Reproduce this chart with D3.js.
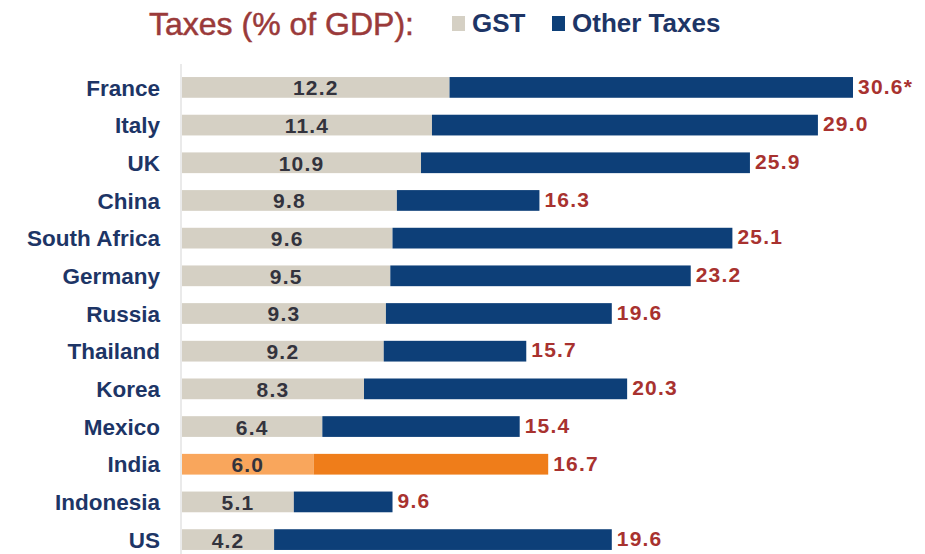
<!DOCTYPE html>
<html>
<head>
<meta charset="utf-8">
<script src="https://cdn.jsdelivr.net/npm/d3@7"></script>
<style>
  body { margin: 0; background: #fff; }
  text { font-family: "Liberation Sans", Arial, sans-serif; }
</style>
</head>
<body>
<svg id="chart" width="925" height="554"></svg>
<script>
var countries = ['France', 'Italy', 'UK', 'China', 'South Africa', 'Germany', 'Russia',
  'Thailand', 'Korea', 'Mexico', 'India', 'Indonesia', 'US'];
var gst = [12.2, 11.4, 10.9, 9.8, 9.6, 9.5, 9.3, 9.2, 8.3, 6.4, 6.0, 5.1, 4.2];
var total = [30.6, 29.0, 25.9, 16.3, 25.1, 23.2, 19.6, 15.7, 20.3, 15.4, 16.7, 9.6, 19.6];
var totalLabels = ['30.6*', '29.0', '25.9', '16.3', '25.1', '23.2', '19.6', '15.7', '20.3', '15.4', '16.7', '9.6', '19.6'];
var highlight = 'India';

var colors = {
  gst: '#d5d0c4', other: '#0d3f78',
  gstHi: '#f9a65c', otherHi: '#ef7d1a',
  label: '#1d3566', value: '#a8322f', inner: '#33333d', title: '#9a3a3a'
};

var margin = {top: 68, left: 182, right: 30, bottom: 0};
var svg = d3.select('#chart');

var rows = countries.map(function (c, i) {
  return {name: c, gst: gst[i], total: total[i], label: totalLabels[i]};
});

var x = d3.scaleLinear().domain([0, 30.6]).range([margin.left, 853]);
var y = d3.scaleBand().domain(countries).range([margin.top, 559]).paddingInner(0.45).paddingOuter(0.24);

// axis line
svg.append('line')
    .attr('x1', margin.left - 1).attr('x2', margin.left - 1)
    .attr('y1', 64).attr('y2', 554)
    .attr('stroke', '#e3e3e3').attr('stroke-width', 1.5);

var row = svg.selectAll('g.row')
    .data(rows)
  .enter().append('g')
    .attr('class', 'row')
    .attr('transform', function (d) { return 'translate(0,' + y(d.name) + ')'; });

row.append('rect')
    .attr('x', x(0))
    .attr('width', function (d) { return x(d.gst) - x(0); })
    .attr('height', y.bandwidth())
    .attr('fill', function (d) { return d.name === highlight ? colors.gstHi : colors.gst; });

row.append('rect')
    .attr('x', function (d) { return x(d.gst); })
    .attr('width', function (d) { return x(d.total) - x(d.gst); })
    .attr('height', y.bandwidth())
    .attr('fill', function (d) { return d.name === highlight ? colors.otherHi : colors.other; });

row.append('text')
    .attr('x', 160)
    .attr('y', y.bandwidth() / 2)
    .attr('dy', '0.36em')
    .attr('text-anchor', 'end')
    .attr('font-size', 22.5)
    .attr('font-weight', 'bold')
    .attr('fill', colors.label)
    .text(function (d) { return d.name; });

row.append('text')
    .attr('x', function (d) { return (x(0) + x(d.gst)) / 2; })
    .attr('y', y.bandwidth() / 2)
    .attr('dy', '0.38em')
    .attr('text-anchor', 'middle')
    .attr('font-size', 21)
    .attr('font-weight', 'bold')
    .attr('letter-spacing', 1.2)
    .attr('fill', colors.inner)
    .text(function (d) { return d.gst.toFixed(1); });

row.append('text')
    .attr('x', function (d) { return x(d.total) + 5; })
    .attr('y', y.bandwidth() / 2)
    .attr('dy', '0.3em')
    .attr('font-size', 21)
    .attr('font-weight', 'bold')
    .attr('letter-spacing', 1.2)
    .attr('fill', colors.value)
    .text(function (d) { return d.label; });

// title + legend
svg.append('text')
    .attr('x', 149).attr('y', 35)
    .attr('font-size', 32)
    .attr('fill', colors.title)
    .attr('stroke', colors.title)
    .attr('stroke-width', 0.5)
    .text('Taxes (% of GDP):');

var legend = [{name: 'GST', color: colors.gst, x: 452}, {name: 'Other Taxes', color: colors.other, x: 552}];
var lg = svg.selectAll('g.legend')
    .data(legend)
  .enter().append('g')
    .attr('class', 'legend')
    .attr('transform', function (d) { return 'translate(' + d.x + ',0)'; });

lg.append('rect')
    .attr('y', 16).attr('width', 13).attr('height', 15)
    .attr('fill', function (d) { return d.color; });

lg.append('text')
    .attr('x', 20).attr('y', 32)
    .attr('font-size', 26)
    .attr('font-weight', 'bold')
    .attr('fill', colors.label)
    .text(function (d) { return d.name; });
</script>
</body>
</html>
